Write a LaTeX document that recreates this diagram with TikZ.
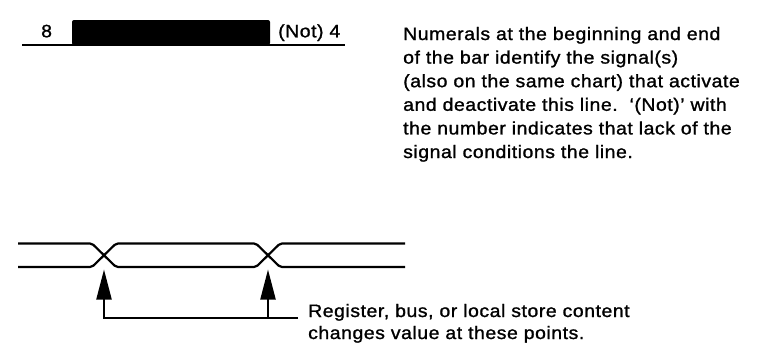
\documentclass[tikz,border=0pt]{standalone}
\usepackage{fontspec}
\setmainfont{Liberation Sans}[FakeStretch=1.08, LetterSpace=3, FakeBold=1.2]
\usetikzlibrary{arrows.meta}
\begin{document}
\begin{tikzpicture}[x=1pt,y=-1pt,
  txt/.style={anchor=base west, inner sep=0pt, font=\fontsize{18}{24}\selectfont},
  wire/.style={line width=2.2pt, line cap=butt, line join=round},
  arr/.style={wire, line join=miter, -{Triangle[length=30pt,width=15pt]}}]
\useasboundingbox (0,0) rectangle (767,360);
% top: signal line with bar
\coordinate (bl) at (22,45);
\coordinate (br) at (345,45);
\draw[line width=2.4pt] (bl) -- (br);
\fill[rounded corners=2pt] (72,45) -- (72,20) -- (270,20) -- (270,45) -- cycle;
\node[txt] (n8) at (41,37.3) {8};
\node[txt] (nnot) at (278,37.3) {(Not) 4};
\node[txt] (p1) at (403,40) {Numerals at the beginning and end};
\node[txt] (p2) at (403,63.6) {of the bar identify the signal(s)};
\node[txt] (p3) at (403,87.2) {(also on the same chart) that activate};
\node[txt] (p4) at (403,110.8) {and deactivate this line.\ \ `(Not)' with};
\node[txt] (p5) at (403,134.4) {the number indicates that lack of the};
\node[txt] (p6) at (403,158) {signal conditions the line.};
% bottom: bus with value changes
\def\yt{243.5}\def\yb{267}
\coordinate (x1) at (104,255);
\coordinate (x2) at (268,255);
\draw[wire, rounded corners=2pt] (18,\yt) -- (92,\yt) -- (116,\yb) -- (256,\yb) -- (280,\yt) -- (405,\yt);
\draw[wire, rounded corners=2pt] (18,\yb) -- (92,\yb) -- (116,\yt) -- (256,\yt) -- (280,\yb) -- (405,\yb);
\coordinate (t1) at (104,269.5);
\coordinate (t2) at (268,269.5);
\coordinate (le) at (298,318);
\draw[arr] (le) -| (t1);
\draw[arr] (t2 |- le) -- (t2);
\node[txt] (r1) at (308,317) {Register, bus, or local store content};
\node[txt] (r2) at (308,339) {changes value at these points.};
\end{tikzpicture}
\end{document}
